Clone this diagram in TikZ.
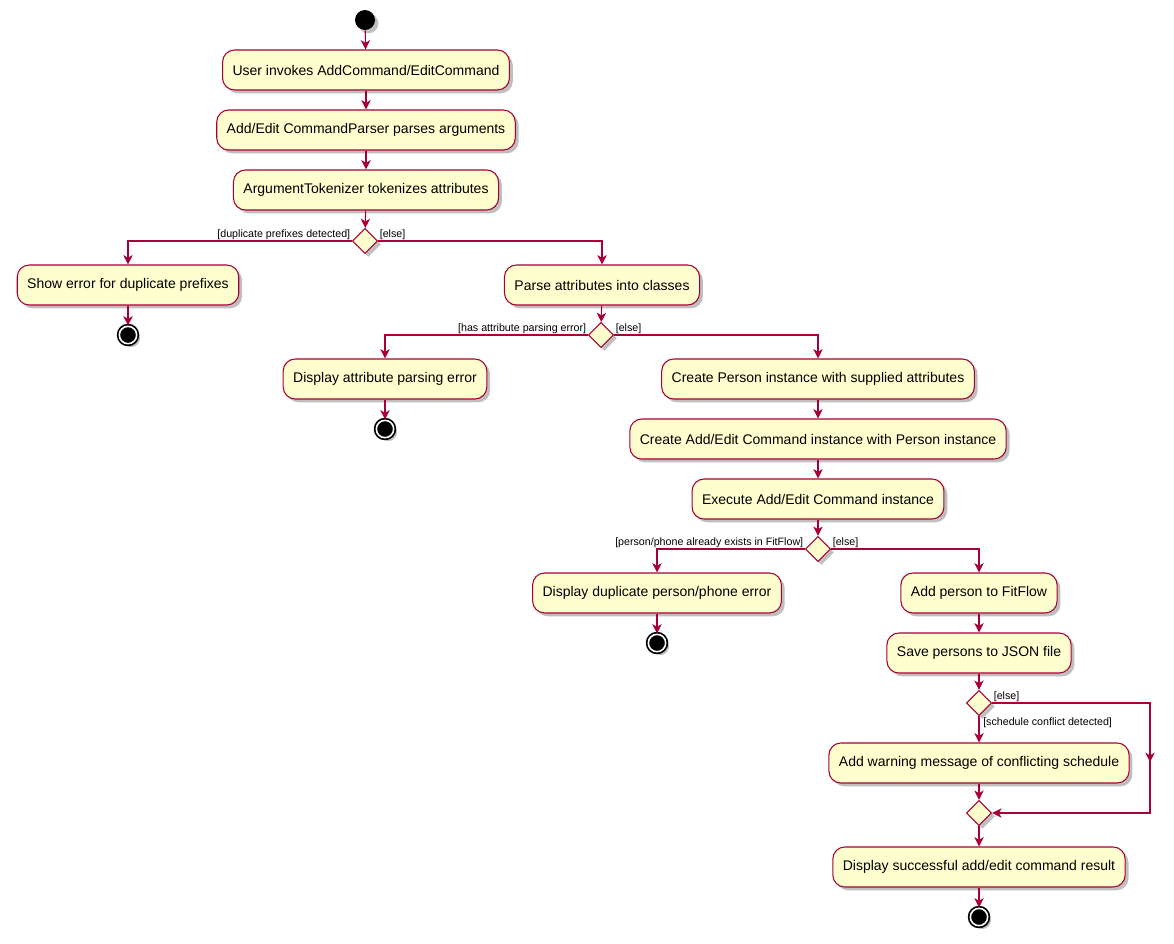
\documentclass[tikz,border=0pt]{standalone}
\usepackage{fontspec}
\setmainfont{Liberation Sans}
\usetikzlibrary{shapes.geometric,arrows.meta,shadows}
\definecolor{bx}{HTML}{FEFECE}
\definecolor{bd}{HTML}{A80036}
\begin{document}
\begin{tikzpicture}[x=0.75pt,y=-0.75pt,
  shd/.style={drop shadow={shadow xshift=2.5pt,shadow yshift=-2.5pt,fill=black,opacity=0.25}},
  act/.style={draw=bd,fill=bx,rounded corners=9pt,line width=0.8pt,minimum height=30pt,inner xsep=7.5pt,font=\fontsize{10.5}{12}\selectfont,shd},
  dia/.style={draw=bd,fill=bx,diamond,minimum size=19pt,inner sep=0pt,line width=0.8pt,shd},
  st/.style={circle,fill=black,minimum size=15pt,inner sep=0pt,shd},
  en/.style={circle,draw=black,fill=black,line width=1.3pt,double=white,double distance=1.2pt,minimum size=13pt,inner sep=0pt,shd},
  ar/.style={draw=bd,line width=0.8pt,-{Stealth[length=7pt,width=7pt,inset=2pt]}},
  lb/.style={font=\fontsize{8}{9}\selectfont,inner sep=1pt}]
\useasboundingbox (0,0) rectangle (1174,943);
\node[st] (s) at (365,20) {};
\node[act] (n1) at (366,70) {User invokes AddCommand/EditCommand};
\node[act] (n2) at (366,130) {Add/Edit CommandParser parses arguments};
\node[act] (n3) at (366,190) {ArgumentTokenizer tokenizes attributes};
\node[dia] (d1) at (365,241) {};
\node[act] (n4) at (128,285) {Show error for duplicate prefixes};
\node[en] (e1) at (128,335) {};
\node[act] (n5) at (602,285) {Parse attributes into classes};
\node[dia] (d2) at (601,335) {};
\node[act] (n6) at (385,379) {Display attribute parsing error};
\node[en] (e2) at (385,429) {};
\node[act] (n7) at (818,379) {Create Person instance with supplied attributes};
\node[act] (n8) at (818,439) {Create Add/Edit Command instance with Person instance};
\node[act] (n9) at (818,499) {Execute Add/Edit Command instance};
\node[dia] (d3) at (818,549) {};
\node[act] (n10) at (657,593) {Display duplicate person/phone error};
\node[en] (e3) at (657,643) {};
\node[act] (n11) at (979,593) {Add person to FitFlow};
\node[act] (n12) at (979,653) {Save persons to JSON file};
\node[dia] (d4) at (979,703) {};
\node[act] (n13) at (979,763) {Add warning message of conflicting schedule};
\node[dia] (d5) at (979,813) {};
\node[act] (n14) at (979,867) {Display successful add/edit command result};
\node[en] (e4) at (979,917) {};
\coordinate (c1) at (1150,703);
\coordinate (c2) at (1150,813);

\draw[ar] (s) -- (n1); \draw[ar] (n1) -- (n2); \draw[ar] (n2) -- (n3); \draw[ar] (n3) -- (d1);
\draw[ar] (d1.west) -| (n4.north); \draw[ar] (d1.east) -| (n5.north);
\draw[ar] (n4) -- (e1); \draw[ar] (n5) -- (d2);
\draw[ar] (d2.west) -| (n6.north); \draw[ar] (d2.east) -| (n7.north);
\draw[ar] (n6) -- (e2); \draw[ar] (n7) -- (n8); \draw[ar] (n8) -- (n9); \draw[ar] (n9) -- (d3);
\draw[ar] (d3.west) -| (n10.north); \draw[ar] (d3.east) -| (n11.north);
\draw[ar] (n10) -- (e3); \draw[ar] (n11) -- (n12); \draw[ar] (n12) -- (d4);
\draw[ar] (d4) -- (n13); \draw[ar] (n13) -- (d5);
\draw[ar] (d4.east) -- (c1) -- (1150,762);
\draw[ar] (1150,760) -- (c2) -- (d5.east);
\draw[ar] (d5) -- (n14); \draw[ar] (n14) -- (e4);

\node[lb,anchor=south east] at (d1.west) {[duplicate prefixes detected]};
\node[lb,anchor=south west] at (d1.east) {[else]};
\node[lb,anchor=south east] at (d2.west) {[has attribute parsing error]};
\node[lb,anchor=south west] at (d2.east) {[else]};
\node[lb,anchor=south east] at (d3.west) {[person/phone already exists in FitFlow]};
\node[lb,anchor=south west] at (d3.east) {[else]};
\node[lb,anchor=south west] at (d4.east) {[else]};
\node[lb,anchor=north west] at ([xshift=2pt]d4.south) {[schedule conflict detected]};
\end{tikzpicture}
\end{document}
